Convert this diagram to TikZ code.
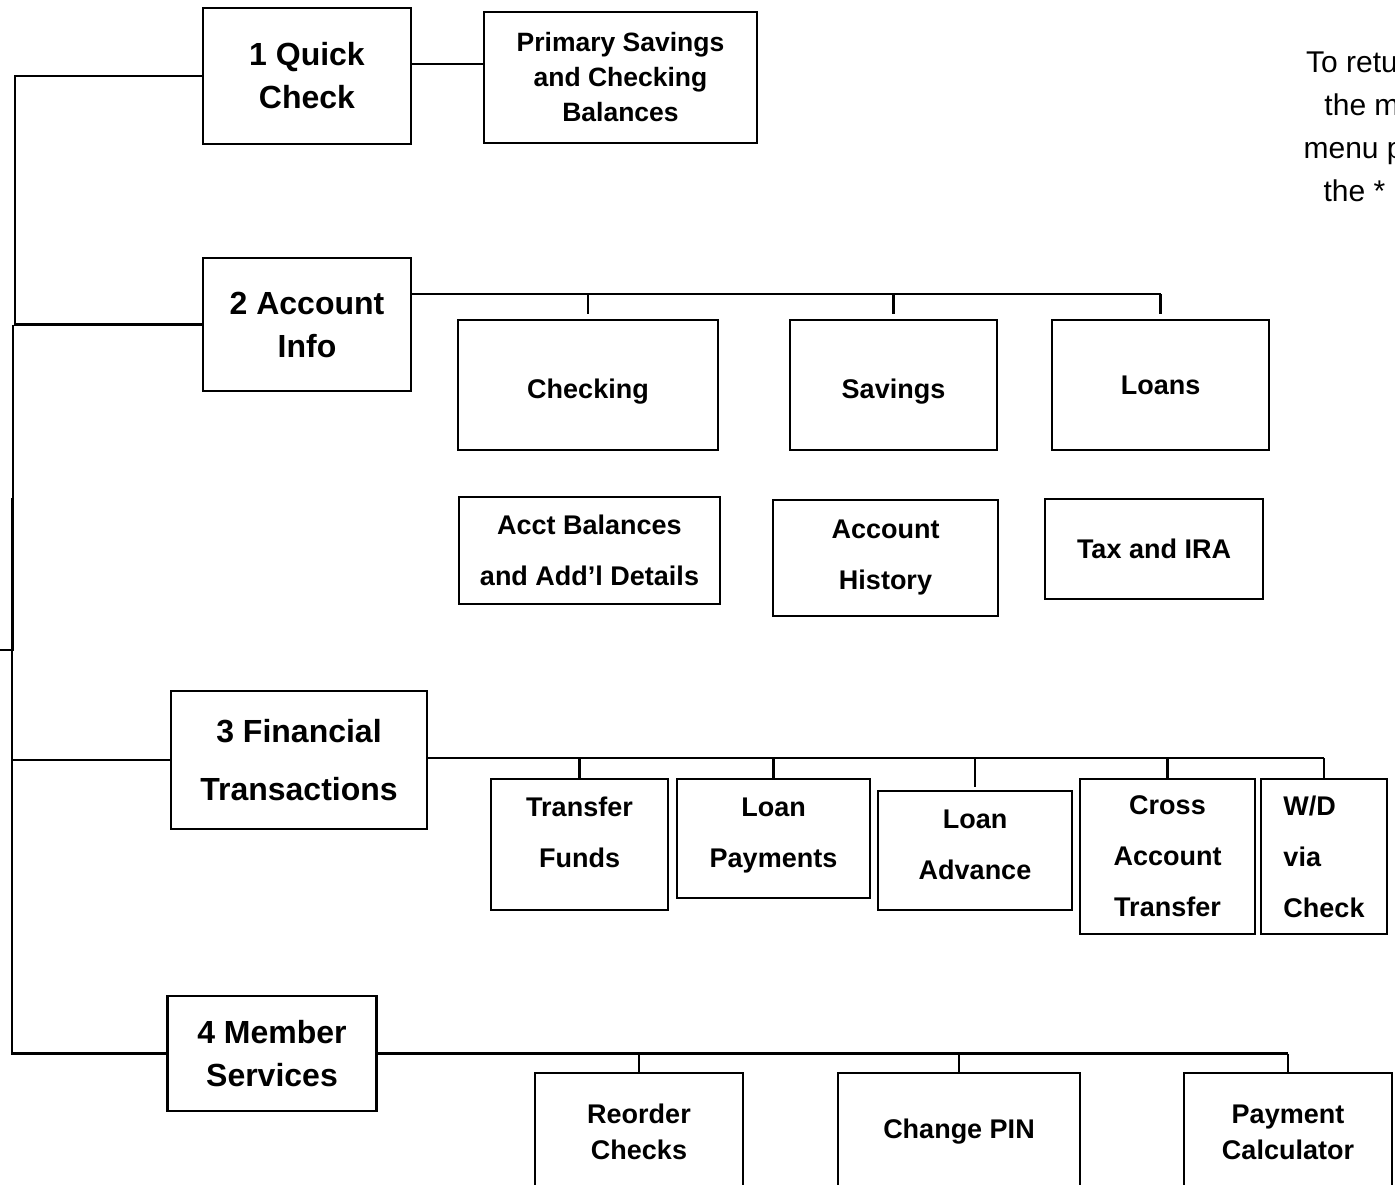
\documentclass[tikz,border=0pt]{standalone}
\usepackage{fontspec}
\setmainfont{Liberation Sans}
\newcommand{\upby}[2]{\raisebox{#1}[\height][\depth]{\begin{tabular}{@{}c@{}}#2\end{tabular}}}
\tikzset{
  menubox/.style={draw, line width=2.2pt, inner sep=0pt, align=center, font={\bfseries\fontsize{32}{43}\selectfont}},
  itembox/.style={draw, line width=2.2pt, inner sep=0pt, align=center, font={\bfseries\fontsize{27}{51}\selectfont}},
  tightbox/.style={draw, line width=2.2pt, inner sep=0pt, align=center, font={\bfseries\fontsize{27}{36}\selectfont}},
  wire/.style={line width=2.2pt}
}
\begin{document}
\begin{tikzpicture}[x=1pt, y=-1pt]
          \useasboundingbox (0,0) rectangle (1395,1184);
          \clip (0,0) rectangle (1395,1184);

          % main menu
          \node[menubox, minimum width=208, minimum height=136] at (307,76) (q1) {1 Quick\\Check};
          \node[menubox, minimum width=208, minimum height=133] at (307,324.5) (a2) {2 Account\\Info};
          \node[menubox, minimum width=256, minimum height=138] at (299,760) (f3) {3 Financial\\[15pt]Transactions};
          \node[menubox, minimum width=209, minimum height=115] at (272,1053.5) (m4) {4 Member\\Services};

          % quick check
          \node[tightbox, minimum width=273, minimum height=131, font={\bfseries\fontsize{26.5}{35}\selectfont}] at (620.5,77.5) (prim) {Primary Savings\\and Checking\\Balances};

          % account info
          \node[itembox, minimum width=260, minimum height=130] at (588,385) (chk) {\upby{-3pt}{Checking}};
          \node[itembox, minimum width=207, minimum height=130] at (893.5,385) (sav) {\upby{-3pt}{Savings}};
          \node[itembox, minimum width=217, minimum height=130] at (1160.5,385) (loans) {Loans};
          \node[itembox, minimum width=261, minimum height=107] at (589.5,550.5) (bal) {Acct Balances\\and Add'l Details};
          \node[itembox, minimum width=225, minimum height=116] at (885.5,558) (hist) {Account\\History};
          \node[itembox, minimum width=218, minimum height=100] at (1154,549) (tax) {Tax and IRA};

          % financial transactions
          \node[itembox, minimum width=177, minimum height=131] at (579.5,844.5) (tf) {\upby{13pt}{Transfer\\Funds}};
          \node[itembox, minimum width=193, minimum height=119] at (773.5,838.5) (lp) {\upby{7pt}{Loan\\Payments}};
          \node[itembox, minimum width=194, minimum height=119] at (975,850.5) (la) {\upby{7pt}{Loan\\Advance}};
          \node[itembox, minimum width=175, minimum height=155] at (1167.5,856.5) (cat) {Cross\\Account\\Transfer};
          \node[itembox, minimum width=126, minimum height=155, align=left] at (1324,856.5) (wd) {W/D\\via\\Check};

          % member services
          \node[tightbox, minimum width=208, minimum height=118] at (639,1132) (ro) {Reorder\\Checks};
          \node[tightbox, minimum width=242, minimum height=118] at (959,1132) (pin) {Change PIN};
          \node[tightbox, minimum width=208, minimum height=118] at (1288,1132) (pay) {Payment\\Calculator};

          % note
          \node[align=center, font={\fontsize{30}{43}\selectfont}] at (1382,130) (back) {To return to\\the main\\menu press\\the * key};

          % left spine
          \coordinate (s1) at (15,76);
          \coordinate (s2) at (13,324.5);
          \coordinate (s3) at (13,650);
          \coordinate (s4) at (0,650);
          \coordinate (s5) at (12,498);
          \draw[wire] (q1.west) -- (s1) -- (s1 |- a2.west) -- (a2.west);
          \draw[wire] (s2) -- (s3) -- (s4);
          \draw[wire] (s5) -- (s5 |- m4.west) -- (m4.west);
          \draw[wire] (s5 |- f3.west) -- (f3.west);

          % buses
          \coordinate (qp) at (411,64);
          \coordinate (b2) at (411,294);
          \draw[wire] (qp) -- (qp -| prim.west);

          \draw[wire] (b2) -- (b2 -| loans.north);
          \draw[wire, shorten >=5pt] (b2 -| chk.north) -- (chk.north);
          \draw[wire, shorten >=5pt] (b2 -| sav.north) -- (sav.north);
          \draw[wire, shorten >=5pt] (b2 -| loans.north) -- (loans.north);

          \coordinate (b3) at (427,758);
          \draw[wire] (f3.east |- b3) -- (b3 -| wd.north);
          \draw[wire] (b3 -| tf.north) -- (tf.north);
          \draw[wire] (b3 -| lp.north) -- (lp.north);
          \draw[wire, shorten >=3pt] (b3 -| la.north) -- (la.north);
          \draw[wire] (b3 -| cat.north) -- (cat.north);
          \draw[wire] (b3 -| wd.north) -- (wd.north);

          \draw[wire] (m4.east) -- (m4.east -| pay.north);
          \draw[wire] (m4.east -| ro.north) -- (ro.north);
          \draw[wire] (m4.east -| pin.north) -- (pin.north);
          \draw[wire] (m4.east -| pay.north) -- (pay.north);
\end{tikzpicture}
\end{document}
